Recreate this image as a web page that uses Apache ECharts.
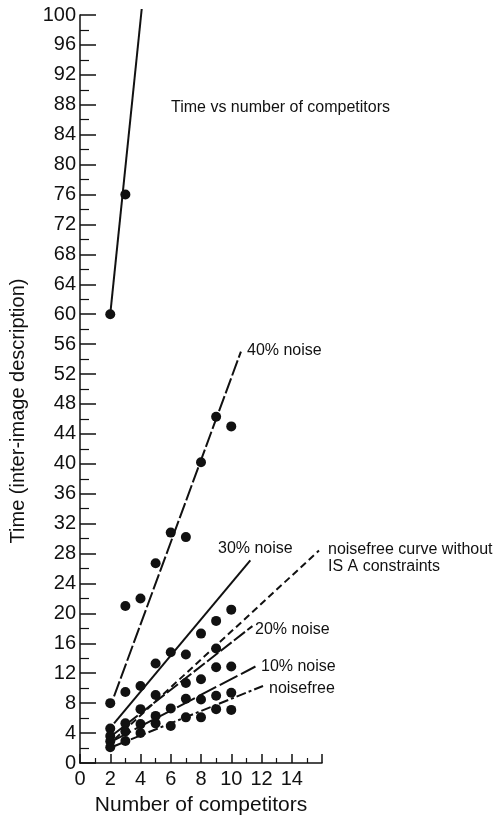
<!DOCTYPE html>
<html>
<head>
<meta charset="utf-8">
<script src="https://cdn.jsdelivr.net/npm/echarts@6/dist/echarts.min.js"></script>
<style>
  html, body { margin: 0; padding: 0; background: #fff; }
  #chart { width: 502px; height: 821px; }
</style>
</head>
<body>
<div id="chart"></div>
<script>
// competitors on x, measured time on y
var competitors = [2, 3, 4, 5, 6, 7, 8, 9, 10];
var noise40 = [8, 21, 22, 26.7, 30.8, 30.2, 40.2, 46.3, 45];
var noise30 = [4.6, 9.5, 10.3, 13.3, 14.8, 14.5, 17.3, 19, 20.5];
var noise20 = [3.6, 5.3, 7.2, 9.1, null, 10.7, 11.2, 12.8, 12.9];
var noise10 = [2.9, 4.2, 5.2, 6.3, 7.3, 8.6, 8.5, 9.0, 9.4];
var noiseFree = [2.1, 2.95, 4.0, 5.3, 4.95, 6.1, 6.1, 7.2, 7.1];
var topX = [2, 3];
var topY = [60, 76];
var extraPoint = [[9, 15.3]];

// fitted lines (start, end)
var lineTop = [[2, 60], [4.08, 100.8]];
var line40 = [[2.25, 8.9], [10.64, 55.0]];
var line30 = [[2.25, 5.3], [11.26, 27.1]];
var lineNoIsa = [[2.3, 3.2], [15.8, 28.4]];
var line20 = [[2.2, 3.8], [11.4, 18.3]];
var line10 = [[2.2, 3.0], [11.6, 12.9]];
var lineFree = [[2.2, 2.2], [12.1, 10.3]];

var xTicks = [0, 2, 4, 6, 8, 10, 12, 14];

function pairs(xs, ys) {
	var out = [];
	for (var i = 0; i < xs.length; i++) {
		if (ys[i] != null) out.push([xs[i], ys[i]]);
	}
	return out;
}

var font = '"Liberation Sans", Arial, sans-serif';
var ink = '#111';

function fitLine(data, dash) {
	return {
		type: 'line',
		data: data,
		symbol: 'none',
		clip: false,
		lineStyle: { color: ink, width: 2, type: dash },
		z: 2
	};
}

function dots(data) {
	return {
		type: 'scatter',
		data: data,
		symbol: 'circle',
		symbolSize: 10,
		itemStyle: { color: ink, opacity: 1 },
		z: 3
	};
}

function note(x, y, text) {
	return {
		type: 'text', x: x, y: y,
		style: { text: text, font: '16px ' + font, fill: ink, verticalAlign: 'middle' }
	};
}

var myChart = echarts.init(document.getElementById('chart'));

var option = {
	animation: false,
	grid: { left: 80, right: 180, top: 15, bottom: 58 },
	xAxis: {
		type: 'value',
		min: 0,
		max: 16,
		interval: 2,
		axisLine: { lineStyle: { color: ink, width: 1.5 } },
		axisTick: { inside: true, length: 9, lineStyle: { color: ink, width: 1.5 } },
		minorTick: { show: true, splitNumber: 2, length: 5, lineStyle: { color: ink, width: 1.2 } },
		splitLine: { show: false },
		axisLabel: {
			color: ink, fontFamily: font, fontSize: 20, margin: 6,
			formatter: function (v) { return xTicks.indexOf(v) >= 0 ? String(v) : ''; }
		},
		name: 'Number of competitors',
		nameLocation: 'middle',
		nameGap: 32,
		nameTextStyle: { color: ink, fontFamily: font, fontSize: 21 }
	},
	yAxis: {
		type: 'value',
		min: 0,
		max: 100,
		interval: 4,
		axisLine: { lineStyle: { color: ink, width: 1.5 } },
		axisTick: { inside: true, length: 16, lineStyle: { color: ink, width: 1.5 } },
		minorTick: { show: true, splitNumber: 2, length: 9, lineStyle: { color: ink, width: 1.2 } },
		splitLine: { show: false },
		axisLabel: { color: ink, fontFamily: font, fontSize: 20, margin: 4 }
	},
	graphic: [
		{ type: 'text', x: 18, y: 411, rotation: Math.PI / 2,
		  style: { text: 'Time (inter-image description)', font: '20px ' + font, fill: ink,
		           align: 'center', verticalAlign: 'middle' } },
		note(171, 108, 'Time vs number of competitors'),
		note(247, 351, '40% noise'),
		note(218, 549, '30% noise'),
		note(328, 550, 'noisefree curve without'),
		note(328, 567, 'IS A constraints'),
		note(255, 630, '20% noise'),
		note(261, 667, '10% noise'),
		note(269, 689, 'noisefree')
	],
	series: [
		fitLine(lineTop, 'solid'),
		fitLine(line40, [16, 3]),
		fitLine(line30, 'solid'),
		fitLine(lineNoIsa, [7, 4]),
		fitLine(line20, [14, 3]),
		fitLine(line10, [20, 4]),
		fitLine(lineFree, [10, 3, 3, 3]),
		dots(pairs(topX, topY)),
		dots(pairs(competitors, noise40)),
		dots(pairs(competitors, noise30)),
		dots(pairs(competitors, noise20)),
		dots(pairs(competitors, noise10)),
		dots(pairs(competitors, noiseFree)),
		dots(extraPoint)
	]
};

myChart.setOption(option);
</script>
</body>
</html>
